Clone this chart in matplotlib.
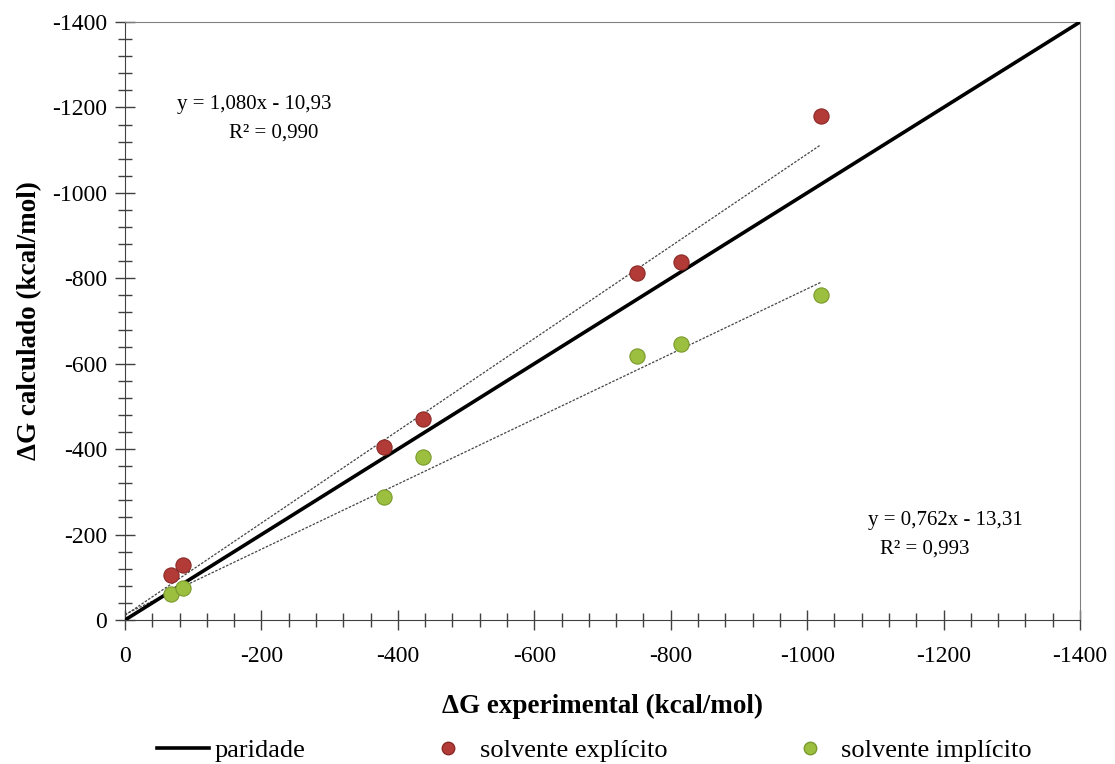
import numpy as np
import matplotlib.pyplot as plt
from matplotlib.ticker import MultipleLocator
from matplotlib.lines import Line2D

plt.rcParams['font.family'] = ['Liberation Serif', 'DejaVu Serif']
plt.rcParams['axes.unicode_minus'] = False

# dados (kcal/mol)
dg_exp = [-68, -85, -380, -437, -751, -815, -1020]
dg_explicito = [-106, -128, -404, -470, -812, -839, -1180]
dg_implicito = [-61, -74, -288, -381, -618, -646, -761]

fit_exp = (1.080, -10.93)
fit_imp = (0.762, -13.31)
paridade = [0, -1400]

fig = plt.figure(figsize=(11.15, 7.64), dpi=100)
ax = fig.add_axes([0.1121, 0.1885, 0.8565, 0.7827])

c_red = '#b23b38'
c_green = '#9dbf3f'

ax.plot(paridade, paridade, color='black', lw=2.6, zorder=3, solid_capstyle='butt')

xf = np.array([0, max(dg_exp, key=abs)])
ax.plot(xf, fit_exp[0] * xf + fit_exp[1], color='#444444', lw=0.9, ls=(0, (2, 1.2)), zorder=2)
ax.plot(xf, fit_imp[0] * xf + fit_imp[1], color='#444444', lw=0.9, ls=(0, (2, 1.2)), zorder=2)

ax.scatter(dg_exp, dg_explicito, s=120, color=c_red, edgecolor='#8a2a28', lw=0.8, zorder=4)
ax.scatter(dg_exp, dg_implicito, s=120, color=c_green, edgecolor='#7a9a2c', lw=0.8, zorder=4)

ax.set_xlim(0, -1400)
ax.set_ylim(0, -1400)
ax.xaxis.set_major_locator(MultipleLocator(200))
ax.xaxis.set_minor_locator(MultipleLocator(40))
ax.yaxis.set_major_locator(MultipleLocator(200))
ax.yaxis.set_minor_locator(MultipleLocator(40))
ax.tick_params(which='major', direction='inout', length=14, width=1, color='#404040',
               labelsize=17, pad=6)
ax.tick_params(which='minor', direction='inout', length=10, width=1, color='#404040')
ax.tick_params(axis='x', pad=12)

for s in ['left', 'bottom']:
    ax.spines[s].set_color('#404040')
for s in ['top', 'right']:
    ax.spines[s].set_color('#808080')

ax.set_xlabel('ΔG experimental (kcal/mol)', fontsize=19.5, fontweight='bold', labelpad=19)
ax.set_ylabel('ΔG calculado (kcal/mol)', fontsize=19.5, fontweight='bold', labelpad=7)

fig.text(254 / 1115, 1 - 105 / 764, 'y = 1,080x - 10,93', fontsize=15, ha='center', va='center')
fig.text(274 / 1115, 1 - 133 / 764, 'R² = 0,990', fontsize=15, ha='center', va='center')
fig.text(945 / 1115, 1 - 520 / 764, 'y = 0,762x - 13,31', fontsize=15, ha='center', va='center')
fig.text(925 / 1115, 1 - 549 / 764, 'R² = 0,993', fontsize=15, ha='center', va='center')

handles = [
    Line2D([], [], color='black', lw=2.6),
    Line2D([], [], ls='none', marker='o', ms=9, color=c_red, markeredgecolor='#8a2a28'),
    Line2D([], [], ls='none', marker='o', ms=9, color=c_green, markeredgecolor='#7a9a2c'),
]
labels = ['paridade', 'solvente explícito', 'solvente implícito']
fig.legend(handles, labels, loc='center', bbox_to_anchor=(0.533, 1 - 750 / 764), ncol=3,
           frameon=False, fontsize=19, columnspacing=4.4, handlelength=2.0, handletextpad=0.2,
           borderpad=0)

fig.savefig('out.png', dpi=100)
